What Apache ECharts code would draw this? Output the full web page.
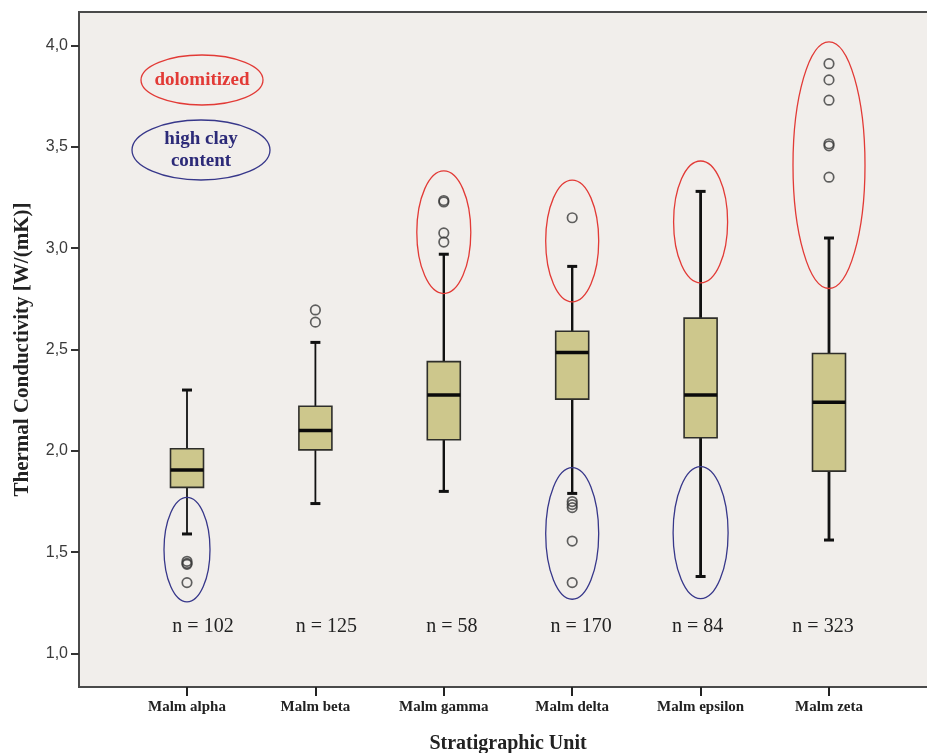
<!DOCTYPE html>
<html><head><meta charset="utf-8">
<script src="https://cdn.jsdelivr.net/npm/echarts@6/dist/echarts.min.js"></script>
<style>html,body{margin:0;padding:0;background:#fff}#c{width:927px;height:753px}</style>
</head><body><div id="c"></div>
<script>
// ---- data ----
const categories = ['Malm alpha', 'Malm beta', 'Malm gamma', 'Malm delta', 'Malm epsilon', 'Malm zeta'];
const whiskerLow  = [1.59, 1.74, 1.80, 1.79, 1.38, 1.56];
const quartile1   = [1.82, 2.005, 2.055, 2.255, 2.065, 1.90];
const medians     = [1.905, 2.10, 2.275, 2.485, 2.275, 2.24];
const quartile3   = [2.01, 2.22, 2.44, 2.59, 2.655, 2.48];
const whiskerHigh = [2.30, 2.535, 2.97, 2.91, 3.28, 3.05];
const nCounts     = [102, 125, 58, 170, 84, 323];
const outliersAlpha   = [1.455, 1.445, 1.44, 1.35];
const outliersBeta    = [2.695, 2.635];
const outliersGamma   = [3.235, 3.228, 3.075, 3.03];
const outliersDelta   = [3.15, 1.75, 1.735, 1.72, 1.555, 1.35];
const outliersEpsilon = [];
const outliersZeta    = [3.91, 3.83, 3.73, 3.515, 3.505, 3.35];
const yTicks = [1.0, 1.5, 2.0, 2.5, 3.0, 3.5, 4.0];
// annotation ellipses (value ranges)
const dolomitizedCats = ['Malm gamma', 'Malm delta', 'Malm epsilon', 'Malm zeta'];
const dolomitizedLow  = [2.776, 2.735, 2.829, 2.801];
const dolomitizedHigh = [3.381, 3.336, 3.430, 4.018];
const clayCats = ['Malm alpha', 'Malm delta', 'Malm epsilon'];
const clayLow  = [1.255, 1.268, 1.271];
const clayHigh = [1.770, 1.917, 1.922];

// ---- styles ----
const dolomitizedWidthPx = [54, 53, 54, 72];
const clayWidthPx = [46, 53, 55];
const nLabelDx = [16, 11, 8, 9, -3, -6];
const whiskerWidth = [1.8, 1.8, 2.4, 2.4, 2.8, 2.8];
const nLabelLevel = 1.13;
const SERIF = '"Liberation Serif","Times New Roman",serif';
const SANS = '"Liberation Sans",Arial,sans-serif';
const RED = '#e23a36', BLUE = '#37378a';

const outlierGroups = [outliersAlpha, outliersBeta, outliersGamma, outliersDelta, outliersEpsilon, outliersZeta];
const outlierData = [];
outlierGroups.forEach((arr, i) => arr.forEach(v => outlierData.push([i, v])));
const boxData = categories.map((c, i) => [i, whiskerLow[i], quartile1[i], medians[i], quartile3[i], whiskerHigh[i]]);

function ellipseSeries(cats, lows, highs, widths, color) {
  return {
    type: 'custom', xAxisIndex: 1, yAxisIndex: 1, z: 5,
    data: cats.map((c, i) => [categories.indexOf(c), lows[i], highs[i], widths[i]]),
    encode: { x: 0, y: [1, 2] },
    renderItem: (params, api) => {
      const a = api.coord([api.value(0), api.value(1)]);
      const b = api.coord([api.value(0), api.value(2)]);
      return { type: 'ellipse', shape: { cx: a[0], cy: (a[1] + b[1]) / 2, rx: api.value(3) / 2, ry: Math.abs(a[1] - b[1]) / 2 },
        style: { fill: null, stroke: color, lineWidth: 1.3 } };
    }
  };
}

const chart = echarts.init(document.getElementById('c'), null, { renderer: 'canvas' });
chart.setOption({
  backgroundColor: '#ffffff',
  animation: false,
  grid: [
    { left: 79, top: 12, right: -10, bottom: 66, show: true, backgroundColor: '#f1eeeb', borderColor: '#4a4a4a', borderWidth: 2, outerBoundsMode: 'none' },
    { left: 122.8, top: 12, right: 33.8, bottom: 66, outerBoundsMode: 'none' }
  ],
  xAxis: [
    { gridIndex: 0, type: 'value', min: 0, max: 1, show: false },
    { gridIndex: 1, type: 'category', data: categories, boundaryGap: true,
      axisLine: { show: false },
      axisTick: { show: true, alignWithLabel: true, length: 9, lineStyle: { color: '#222', width: 2 } },
      axisLabel: { fontFamily: SERIF, fontWeight: 'bold', fontSize: 15, color: '#222', margin: 13 },
      name: 'Stratigraphic Unit', nameLocation: 'middle', nameGap: 47,
      nameTextStyle: { fontFamily: SERIF, fontWeight: 'bold', fontSize: 20, color: '#222' },
      splitLine: { show: false } }
  ],
  yAxis: [
    { gridIndex: 0, type: 'value', min: 0.835, max: 4.165,
      axisLine: { show: false },
      axisTick: { show: true, length: 8, customValues: yTicks, lineStyle: { color: '#333', width: 2 } },
      axisLabel: { customValues: yTicks, formatter: v => v.toFixed(1).replace('.', ','), fontFamily: SANS, fontSize: 16, color: '#3a3a3a', margin: 11 },
      splitLine: { show: false },
      name: 'Thermal Conductivity [W/(mK)]', nameLocation: 'middle', nameGap: 46, nameRotate: 90,
      nameTextStyle: { fontFamily: SERIF, fontWeight: 'bold', fontSize: 21, color: '#222' } },
    { gridIndex: 1, type: 'value', min: 0.835, max: 4.165, show: false, splitLine: { show: false } }
  ],
  graphic: [
    { type: 'rect', shape: { x: 168, y: 307, width: 39, height: 46 }, style: { fill: '#e7e6e5' }, z: -1 },
    { type: 'rect', shape: { x: 556, y: 612, width: 38, height: 28 }, style: { fill: '#e7e6e5' }, z: -1 },
    { type: 'ellipse', shape: { cx: 202, cy: 80, rx: 61, ry: 25 }, style: { fill: null, stroke: RED, lineWidth: 1.3 }, z: 10 },
    { type: 'text', x: 202, y: 80, style: { text: 'dolomitized', fill: RED, font: 'bold 19px ' + SERIF, align: 'center', verticalAlign: 'middle' }, z: 10 },
    { type: 'ellipse', shape: { cx: 201, cy: 150, rx: 69, ry: 30 }, style: { fill: null, stroke: BLUE, lineWidth: 1.3 }, z: 10 },
    { type: 'text', x: 201, y: 150, style: { text: 'high clay\ncontent', fill: '#2c2a78', font: 'bold 19px ' + SERIF, align: 'center', verticalAlign: 'middle', lineHeight: 22 }, z: 10 }
  ],
  series: [
    { type: 'custom', xAxisIndex: 1, yAxisIndex: 1, z: 3,
      data: boxData, encode: { x: 0, y: [1, 2, 3, 4, 5] },
      renderItem: (params, api) => {
        const i = api.value(0);
        const lo = api.coord([i, api.value(1)]), q1 = api.coord([i, api.value(2)]), md = api.coord([i, api.value(3)]),
              q3 = api.coord([i, api.value(4)]), hi = api.coord([i, api.value(5)]);
        const cx = lo[0], hw = 16.5, cap = 5;
        const ws = { stroke: '#111', lineWidth: whiskerWidth[i] };
        return { type: 'group', children: [
          { type: 'line', shape: { x1: cx, y1: hi[1], x2: cx, y2: q3[1] }, style: ws },
          { type: 'line', shape: { x1: cx, y1: q1[1], x2: cx, y2: lo[1] }, style: ws },
          { type: 'line', shape: { x1: cx - cap, y1: hi[1], x2: cx + cap, y2: hi[1] }, style: { stroke: '#111', lineWidth: 3 } },
          { type: 'line', shape: { x1: cx - cap, y1: lo[1], x2: cx + cap, y2: lo[1] }, style: { stroke: '#111', lineWidth: 3 } },
          { type: 'rect', shape: { x: cx - hw, y: q3[1], width: hw * 2, height: q1[1] - q3[1] }, style: { fill: '#cdc78c', stroke: '#2e2e2a', lineWidth: 1.6 } },
          { type: 'line', shape: { x1: cx - hw, y1: md[1], x2: cx + hw, y2: md[1] }, style: { stroke: '#0a0a0a', lineWidth: 3.5 } }
        ] };
      }
    },
    { type: 'scatter', xAxisIndex: 1, yAxisIndex: 1, z: 4, data: outlierData,
      symbol: 'circle', symbolSize: 9.5,
      itemStyle: { color: 'rgba(0,0,0,0)', borderColor: '#3a3a3a', borderWidth: 1.7 } },
    { type: 'custom', xAxisIndex: 1, yAxisIndex: 1, z: 4,
      data: categories.map((c, i) => [i, nCounts[i]]), encode: { x: 0 },
      renderItem: (params, api) => {
        const i = api.value(0);
        const p = api.coord([i, nLabelLevel]);
        return { type: 'text', x: p[0] + nLabelDx[i], y: p[1],
          style: { text: 'n = ' + api.value(1), fill: '#222', font: '20px ' + SERIF, align: 'center', verticalAlign: 'middle' } };
      }
    },
    ellipseSeries(dolomitizedCats, dolomitizedLow, dolomitizedHigh, dolomitizedWidthPx, RED),
    ellipseSeries(clayCats, clayLow, clayHigh, clayWidthPx, BLUE)
  ]
});
</script></body></html>
